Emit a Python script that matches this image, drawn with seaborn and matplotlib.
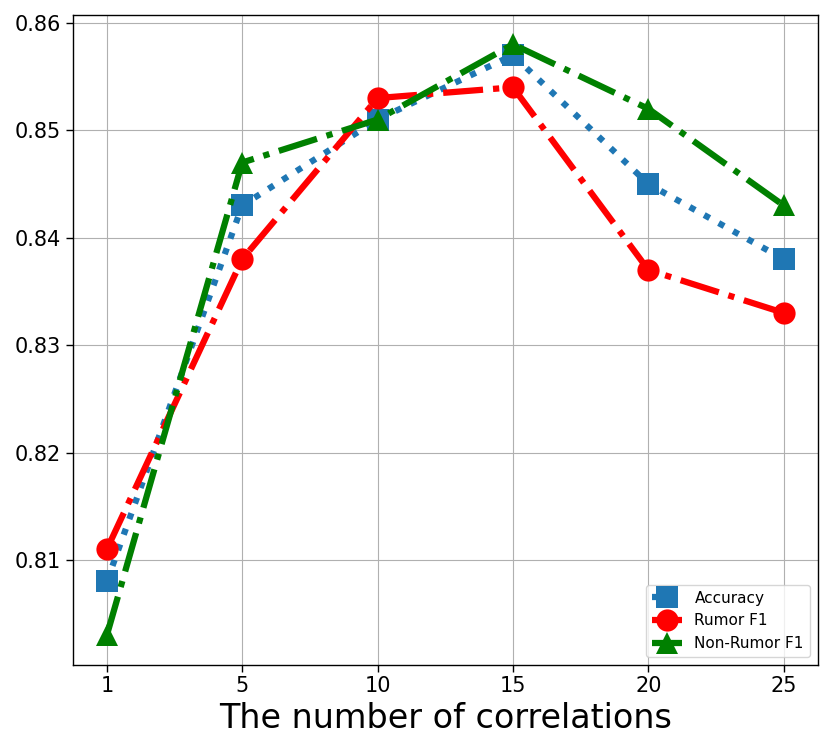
import matplotlib
matplotlib.use('Agg')
import matplotlib.pyplot as plt
import seaborn as sns
import pandas as pd

# data
correlations = ['1', '5', '10', '15', '20', '25']
accuracy = [0.808, 0.843, 0.851, 0.857, 0.845, 0.838]
rumor_f1 = [0.811, 0.838, 0.853, 0.854, 0.837, 0.833]
non_rumor_f1 = [0.803, 0.847, 0.851, 0.858, 0.852, 0.843]

df = pd.DataFrame({'x': range(len(correlations)),
                   'Accuracy': accuracy,
                   'Rumor F1': rumor_f1,
                   'Non-Rumor F1': non_rumor_f1})

sns.set_style('white')
plt.rcParams['font.family'] = ['DejaVu Sans']
plt.rcParams['text.color'] = 'black'
plt.rcParams['axes.labelcolor'] = 'black'
plt.rcParams['xtick.color'] = 'black'
plt.rcParams['ytick.color'] = 'black'

fig, ax = plt.subplots(figsize=(8.3, 7.41), dpi=100)

sns.lineplot(x='x', y='Accuracy', data=df, ax=ax, color='#1f77b4', linestyle=':',
             lw=4.5, marker='s', markersize=16, markeredgewidth=0, label='Accuracy')
sns.lineplot(x='x', y='Rumor F1', data=df, ax=ax, color='red', linestyle='-.',
             lw=4.5, marker='o', markersize=16, markeredgewidth=0, label='Rumor F1')
sns.lineplot(x='x', y='Non-Rumor F1', data=df, ax=ax, color='green', linestyle='-.',
             lw=4.5, marker='^', markersize=16, markeredgewidth=0, label='Non-Rumor F1')

ax.set_xticks(range(len(correlations)))
ax.set_xticklabels(correlations)
ax.set_xlabel('The number of correlations', fontsize=24)
ax.set_ylabel('')
ax.tick_params(axis='both', labelsize=15, direction='out', length=5, width=1, left=True, bottom=True)
ax.grid(True, color='#b0b0b0', linewidth=0.8)
for s in ax.spines.values():
    s.set_color('black')
    s.set_linewidth(1)
ax.legend(loc='lower right', fontsize=11)

plt.subplots_adjust(left=0.088, right=0.985, top=0.98, bottom=0.103)
plt.savefig('out.png')
